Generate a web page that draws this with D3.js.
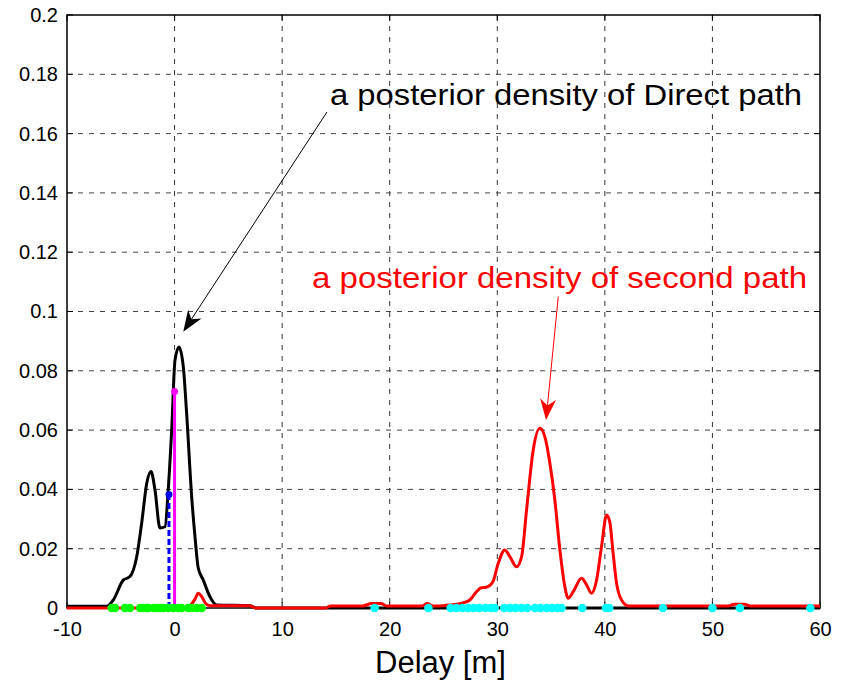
<!DOCTYPE html>
<html><head><meta charset="utf-8">
<script src="https://cdn.jsdelivr.net/npm/d3@7"></script>
<style>body{margin:0;background:#fff}svg{display:block}text{font-family:Arial,"Liberation Sans",sans-serif}</style>
</head><body><svg id="c" width="841" height="683"></svg>
<script>
// ---- data ----
const xTicks = [-10, 0, 10, 20, 30, 40, 50, 60];
const xTickLabels = ["-10","0","10","20","30","40","50","60"];
const yTicks = [0, 0.02, 0.04, 0.06, 0.08, 0.1, 0.12, 0.14, 0.16, 0.18, 0.2];
const yTickLabels = ["0","0.02","0.04","0.06","0.08","0.1","0.12","0.14","0.16","0.18","0.2"];
const xLabel = "Delay [m]";

const directX = [-10,-6.3,-5.7,-4.77,-4.15,-3.52,-3.06,-2.59,-2.19,-1.82,-1.36,-0.89,-0.59,-0.27,0.04,0.41,0.81,1.12,1.59,1.9,2.2,2.67,3.29,3.91,7.0,7.6,60];
const directY = [0.0006,0.0006,0.0027,0.0094,0.0106,0.0173,0.0286,0.042,0.046,0.0398,0.027,0.0274,0.0398,0.06,0.0836,0.088,0.0814,0.0657,0.0375,0.024,0.0135,0.0094,0.0038,0.001,0.0008,0,0];

const secondX = [-10,1.0,1.5,1.9,2.2,2.5,2.9,3.3,7.0,7.5,14,14.5,17.5,18.3,19.2,19.7,23,23.5,24,25,25.6,26.8,27.45,28.07,28.5,29.0,29.6,30.08,30.7,31.17,31.79,32.26,32.72,33.34,33.96,34.42,34.89,35.35,35.82,36.28,36.59,37.06,37.83,38.3,38.76,39.23,39.69,40.16,40.46,40.77,41.09,41.55,42.2,51.5,52,53,53.5,60];
const secondY = [0,0,0.001,0.003,0.005,0.004,0.0015,0.0008,0.0008,0,0,0.0007,0.0007,0.0015,0.0015,0.0007,0.0007,0.0015,0.0007,0.0008,0.001,0.0017,0.0027,0.0055,0.0068,0.007,0.0089,0.015,0.0196,0.0173,0.0139,0.0173,0.033,0.0533,0.0606,0.0578,0.0488,0.0364,0.0196,0.0072,0.0033,0.0055,0.01,0.0078,0.005,0.0094,0.0207,0.0314,0.029,0.0184,0.0083,0.0027,0.0007,0.0007,0.0013,0.0013,0.0007,0.0007];

const magentaStem = {x: 0, y: 0.073};
const blueStem = {x: -0.52, y: 0.0383};

const greenDots = [-5.85,-5.54,-4.61,-4.15,-3.2,-2.91,-2.6,-2.45,-1.98,-1.67,-1.36,-1.05,-0.59,-0.12,0.34,0.65,1.27,1.6,2.05,2.52];
const cyanDots = [18.6,23.6,25.66,26.2,26.76,27.3,27.8,28.3,28.9,29.4,29.76,30.65,31.2,31.7,32.25,32.8,33.5,34.0,34.6,35.1,35.6,35.97,37.9,40.1,40.4,45.4,50.0,52.55,59.1];

const annotTexts = ["a posterior density of Direct path", "a posterior density of second path"];
const annotTextPos = [[14.45, 0.1698], [12.78, 0.1079]];
const annotArrowFrom = [[14.17, 0.1673], [35.67, 0.105]];
const annotArrowTo = [[0.81, 0.0932], [34.53, 0.0634]];
const annotColors = ["#000000", "#ff0000"];

// ---- chart ----
const svg = d3.select("#c");
const L = 67, R = 820, T = 15, B = 608;
const x = d3.scaleLinear().domain([-10, 60]).range([L, R]);
const y = d3.scaleLinear().domain([0, 0.2]).range([B, T]);
const FONT = "Arial, 'Liberation Sans', sans-serif";

// grid
const grid = svg.append("g");
grid.selectAll(".gx").data(xTicks.slice(1, -1)).enter().append("line")
  .attr("x1", d => x(d)).attr("x2", d => x(d)).attr("y1", T).attr("y2", B)
  .attr("stroke", "#333").attr("stroke-width", 1).attr("stroke-dasharray", "5,6");
grid.selectAll(".gy").data(yTicks.slice(1, -1)).enter().append("line")
  .attr("x1", L).attr("x2", R).attr("y1", d => y(d)).attr("y2", d => y(d))
  .attr("stroke", "#444").attr("stroke-width", 1).attr("stroke-dasharray", "5,6");

// axes
const xAxis = d3.axisBottom(x).tickValues(xTicks).tickSize(0).tickPadding(14).tickFormat((d, i) => xTickLabels[i]);
const gx = svg.append("g").attr("transform", `translate(0,${B})`).call(xAxis);
gx.select(".domain").remove();
gx.selectAll("text").attr("font-size", 20).attr("fill", "#000").attr("font-family", FONT);
const yAxis = d3.axisLeft(y).tickValues(yTicks).tickSize(0).tickPadding(9).tickFormat((d, i) => yTickLabels[i]);
const gy = svg.append("g").attr("transform", `translate(${L},0)`).call(yAxis);
gy.select(".domain").remove();
gy.selectAll("text").attr("font-size", 20).attr("fill", "#000").attr("font-family", FONT);

// inward ticks on all four sides
const tk = 6;
const ticks = svg.append("g").attr("stroke", "#000").attr("stroke-width", 1);
xTicks.forEach(d => {
  ticks.append("line").attr("x1", x(d)).attr("x2", x(d)).attr("y1", B).attr("y2", B - tk);
  ticks.append("line").attr("x1", x(d)).attr("x2", x(d)).attr("y1", T).attr("y2", T + tk);
});
yTicks.forEach(d => {
  ticks.append("line").attr("x1", L).attr("x2", L + tk).attr("y1", y(d)).attr("y2", y(d));
  ticks.append("line").attr("x1", R).attr("x2", R - tk).attr("y1", y(d)).attr("y2", y(d));
});

// frame
svg.append("rect").attr("x", L).attr("y", T).attr("width", R - L).attr("height", B - T)
  .attr("fill", "none").attr("stroke", "#000").attr("stroke-width", 1.5);

// curves
const line = d3.line().x(d => x(d[0])).y(d => y(d[1])).curve(d3.curveMonotoneX);
svg.append("path").datum(directX.map((v, i) => [v, directY[i]]))
  .attr("d", line).attr("fill", "none").attr("stroke", "#000").attr("stroke-width", 3).attr("stroke-linejoin", "round");
svg.append("path").datum(secondX.map((v, i) => [v, secondY[i]]))
  .attr("d", line).attr("fill", "none").attr("stroke", "#ff0000").attr("stroke-width", 3).attr("stroke-linejoin", "round");

// stems
svg.append("line").attr("x1", x(blueStem.x)).attr("x2", x(blueStem.x)).attr("y1", y(0)).attr("y2", y(blueStem.y))
  .attr("stroke", "#0000ff").attr("stroke-width", 3).attr("stroke-dasharray", "6,3");
svg.append("circle").attr("cx", x(blueStem.x)).attr("cy", y(blueStem.y)).attr("r", 3.5).attr("fill", "#0000ff");
svg.append("line").attr("x1", x(magentaStem.x)).attr("x2", x(magentaStem.x)).attr("y1", y(0)).attr("y2", y(magentaStem.y))
  .attr("stroke", "#ff00ff").attr("stroke-width", 3);
svg.append("circle").attr("cx", x(magentaStem.x)).attr("cy", y(magentaStem.y)).attr("r", 3.5).attr("fill", "#ff00ff");

// dots
svg.append("g").selectAll("circle").data(greenDots).enter().append("circle")
  .attr("cx", d => x(d)).attr("cy", y(0)).attr("r", 4.3).attr("fill", "#00ff00");
svg.append("g").selectAll("circle").data(cyanDots).enter().append("circle")
  .attr("cx", d => x(d)).attr("cy", y(0)).attr("r", 4.3).attr("fill", "#00ffff");

// annotations
const textLens = [472, 495];
annotTexts.forEach((t, i) => {
  svg.append("text").attr("x", x(annotTextPos[i][0])).attr("y", y(annotTextPos[i][1]))
    .attr("font-size", 29).attr("fill", annotColors[i]).attr("font-family", FONT)
    .attr("textLength", textLens[i]).attr("lengthAdjust", "spacingAndGlyphs").text(t);
  const x0 = x(annotArrowFrom[i][0]), y0 = y(annotArrowFrom[i][1]);
  const x1 = x(annotArrowTo[i][0]), y1 = y(annotArrowTo[i][1]);
  const ang = Math.atan2(y1 - y0, x1 - x0);
  const hl = 21, hw = 8;
  const bx = x1 - hl * Math.cos(ang), by = y1 - hl * Math.sin(ang);
  const nx = x1 - hl * 0.7 * Math.cos(ang), ny = y1 - hl * 0.7 * Math.sin(ang);
  svg.append("line").attr("x1", x0).attr("y1", y0).attr("x2", nx).attr("y2", ny)
    .attr("stroke", annotColors[i]).attr("stroke-width", 1);
  const px = -Math.sin(ang), py = Math.cos(ang);
  svg.append("path").attr("d", `M${x1},${y1}L${bx + px * hw},${by + py * hw}L${nx},${ny}L${bx - px * hw},${by - py * hw}Z`)
    .attr("fill", annotColors[i]);
});

// x label
svg.append("text").attr("x", 375).attr("y", 673).attr("text-anchor", "start")
  .attr("font-size", 31).attr("fill", "#000").attr("font-family", FONT).text(xLabel);
</script></body></html>
